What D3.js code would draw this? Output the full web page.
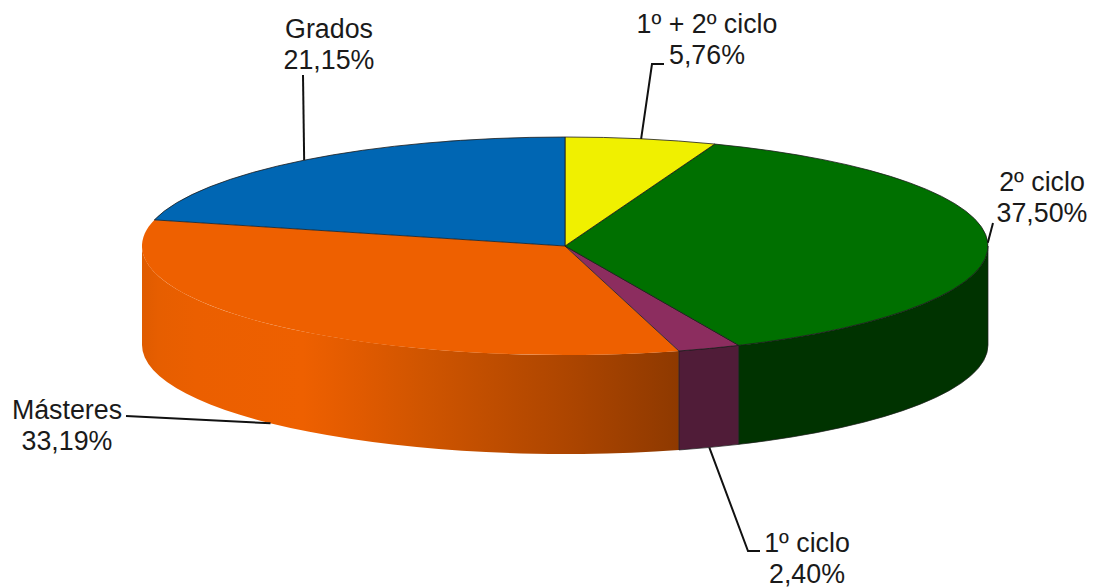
<!DOCTYPE html>
<html>
<head>
<meta charset="utf-8">
<script src="https://cdn.jsdelivr.net/npm/d3@7"></script>
<style>
html, body { margin: 0; padding: 0; background: #fff; }
svg { display: block; }
.label { font-family: "Liberation Sans", Arial, sans-serif; font-size: 26.8px; fill: #1a1a1a; text-anchor: middle; }
.leader { fill: none; stroke: #111; stroke-width: 2; }
</style>
</head>
<body>
<svg id="chart" width="1096" height="588"></svg>
<script>
var categories = ['1º + 2º ciclo', '2º ciclo', '1º ciclo', 'Másteres', 'Grados'];
var values = [5.76, 37.50, 2.40, 33.19, 21.15];
var valueLabels = ['5,76%', '37,50%', '2,40%', '33,19%', '21,15%'];

var topColors = ['#f0f000', '#007000', '#8c2d5f', '#ee6000', '#0066b3'];
var wallColors = ['#787800', '#003300', '#501c38', 'url(#orangeWall)', '#003359'];

// label centre, first baseline and the leader's elbow points (annotation layout)
var labelLayout = [
  {x: 707, y: 33, elbows: [[652, 64], [664, 64]]},
  {x: 1042, y: 191, elbows: [[993, 223]]},
  {x: 807, y: 552, elbows: [[748, 551], [760, 551]]},
  {x: 67, y: 419, elbows: [[126, 416]]},
  {x: 329, y: 38, elbows: [[303, 75]]}
];

var cx = 565, cy = 246, rx = 423, ry = 109, depth = 99;

var svg = d3.select('svg#chart');

var grad = svg.append('defs').append('linearGradient')
    .attr('id', 'orangeWall')
    .attr('gradientUnits', 'userSpaceOnUse')
    .attr('x1', 142).attr('x2', 679).attr('y1', 0).attr('y2', 0);
[[0, '#df5b00'], [0.03, '#e65e00'], [0.1, '#eb5f00'], [0.3, '#ee6000'], [0.41, '#e05a00'],
 [0.52, '#d05500'], [0.8, '#ac4500'], [1, '#8e3900']].forEach(function(s) {
  grad.append('stop').attr('offset', s[0]).attr('stop-color', s[1]);
});

var pie = d3.pie().sort(null).value(function(d) {return d;});
var slices = pie(values);

function point(angle, dy) {
  return [cx + rx * Math.sin(angle), cy - ry * Math.cos(angle) + (dy || 0)];
}

// outer wall of a slice, only the part that faces the viewer
function wallPath(d) {
  var a0 = Math.max(d.startAngle, Math.PI / 2);
  var a1 = Math.min(d.endAngle, 3 * Math.PI / 2);
  if (a1 <= a0) return null;
  var p0 = point(a0), p1 = point(a1), q1 = point(a1, depth), q0 = point(a0, depth);
  return 'M' + p0 + 'A' + rx + ',' + ry + ' 0 0 1 ' + p1 +
    'L' + q1 + 'A' + rx + ',' + ry + ' 0 0 0 ' + q0 + 'Z';
}

// walls, orange first so the neighbours' seams stay on top
var order = [3, 2, 1, 0, 4];
svg.append('g').selectAll('path')
  .data(order.filter(function(i) {return wallPath(slices[i]);}))
  .enter().append('path')
  .attr('d', function(i) {return wallPath(slices[i]);})
  .attr('fill', function(i) {return wallColors[i];})
  .attr('stroke', function(i) {return i == 3 ? 'none' : '#1c1c1c';})
  .attr('stroke-width', 0.7);

// top face, a d3 arc squashed into an ellipse
var arc = d3.arc().innerRadius(0).outerRadius(rx);
svg.append('g')
  .attr('transform', 'translate(' + cx + ',' + cy + ') scale(1,' + (ry / rx) + ')')
  .selectAll('path')
  .data(order)
  .enter().append('path')
  .attr('d', function(i) {return arc(slices[i]);})
  .attr('fill', function(i) {return topColors[i];})
  .attr('stroke', function(i) {return i == 3 ? 'none' : '#1c1c1c';})
  .attr('stroke-width', 0.8)
  .attr('vector-effect', 'non-scaling-stroke');

// leaders start at the middle of each slice's rim
var line = d3.line();
svg.append('g').selectAll('path')
  .data(slices)
  .enter().append('path')
  .classed('leader', true)
  .attr('d', function(d, i) {
    var mid = (d.startAngle + d.endAngle) / 2;
    var front = mid > Math.PI / 2 && mid < 3 * Math.PI / 2;
    var start = point(mid, front ? depth : 0);
    return line([start].concat(labelLayout[i].elbows));
  });

var labels = svg.append('g').selectAll('text')
  .data(categories)
  .enter().append('text')
  .classed('label', true)
  .attr('y', function(d, i) {return labelLayout[i].y;});

labels.append('tspan')
  .attr('x', function(d, i) {return labelLayout[i].x;})
  .text(function(d) {return d;});

labels.append('tspan')
  .attr('x', function(d, i) {return labelLayout[i].x;})
  .attr('dy', 30.5)
  .text(function(d, i) {return valueLabels[i];});
</script>
</body>
</html>
